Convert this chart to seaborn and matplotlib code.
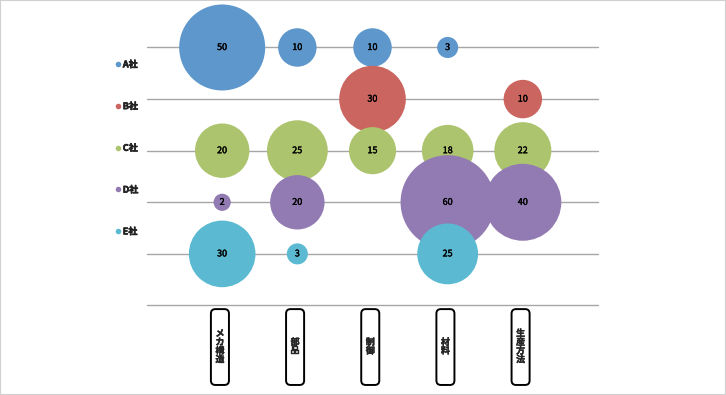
import seaborn as sns
import matplotlib.pyplot as plt
import matplotlib.patheffects as pe
import pandas as pd
from matplotlib.patches import FancyBboxPatch, Rectangle
from matplotlib.lines import Line2D

# DATA
categories = ['メカ構造', '部品', '制御', '材料', '生産方法']
companies = ['A社', 'B社', 'C社', 'D社', 'E社']
values_a = [50, 10, 10, 3, None]
values_b = [None, None, 30, None, 10]
values_c = [20, 25, 15, 18, 22]
values_d = [2, 20, None, 60, 40]
values_e = [30, 3, None, 25, None]
colors = ['#5E97CB', '#CB6560', '#ADC46E', '#927BB2', '#5BBAD2']

# Build long table (company order = draw order)
rows = []
for ci, (comp, vals) in enumerate(zip(companies, [values_a, values_b, values_c, values_d, values_e])):
    for xi, v in enumerate(vals):
        if v is not None:
            rows.append({'company': comp, 'category': categories[xi],
                         'x': xi + 1, 'y': len(companies) - ci, 'value': v})
df = pd.DataFrame(rows)

sns.set_theme(style='white')
plt.rcParams['font.family'] = ['Noto Sans CJK JP', 'DejaVu Sans']

fig = plt.figure(figsize=(7.26, 3.95), dpi=100)
ax = fig.add_axes([0.2025, 0.2266, 0.6212, 0.7577])

# bubble area proportional to value
k = 76.7
sns.scatterplot(data=df, x='x', y='y', hue='company', hue_order=companies,
                size='value', sizes=(2 * k, 60 * k), size_norm=(2, 60),
                palette=colors, linewidth=0, alpha=1, legend=False,
                clip_on=False, zorder=3, ax=ax)

bold = [pe.withStroke(linewidth=0.4, foreground='black')]
semi = [pe.withStroke(linewidth=0.25, foreground='black')]
for _, r in df.iterrows():
    ax.text(r['x'], r['y'], str(r['value']), ha='center', va='center',
            fontsize=6.5, color='black', zorder=5, path_effects=semi)

ax.set_xlim(0, 6)
ax.set_ylim(0, 5.8)
ax.set_yticks(range(0, 6))
ax.set_yticklabels([])
ax.set_xticks([])
ax.set_xlabel('')
ax.set_ylabel('')
ax.grid(True, axis='y', color='#A6A6A6', linewidth=1)
for gl in ax.get_ygridlines():
    gl.set_clip_on(False)
ax.tick_params(left=False, bottom=False)
for s in ax.spines.values():
    s.set_visible(False)

# category labels in rounded boxes below the axis
for i, cat in enumerate(categories):
    x = i + 1 - 0.03
    box = FancyBboxPatch((x - 0.12, -1.54), 0.24, 1.47,
                         boxstyle='round,pad=0,rounding_size=0.06',
                         mutation_aspect=1.45, facecolor='white',
                         edgecolor='black', linewidth=1.4, clip_on=False)
    ax.add_patch(box)
    ax.text(x, -0.80, '\n'.join(cat), ha='center', va='center', fontsize=6.5,
            fontweight='bold', linespacing=0.95, clip_on=False,
            path_effects=semi)

# legend on the left
handles = [Line2D([0], [0], marker='o', linestyle='', markersize=4,
                  markerfacecolor=c, markeredgewidth=0) for c in colors]
leg = fig.legend(handles, companies, loc='upper left', bbox_to_anchor=(0.148, 0.868),
                 frameon=False, handlelength=0.6, handletextpad=0.2,
                 labelspacing=3.62, prop={'size': 6.5, 'weight': 'bold'})
for t in leg.get_texts():
    t.set_path_effects(bold)

fig.patches.append(Rectangle((0, 0), 1, 1, transform=fig.transFigure, fill=False,
                             edgecolor='#D0D0D0', linewidth=1.5))

fig.savefig('out.png', dpi=100)
